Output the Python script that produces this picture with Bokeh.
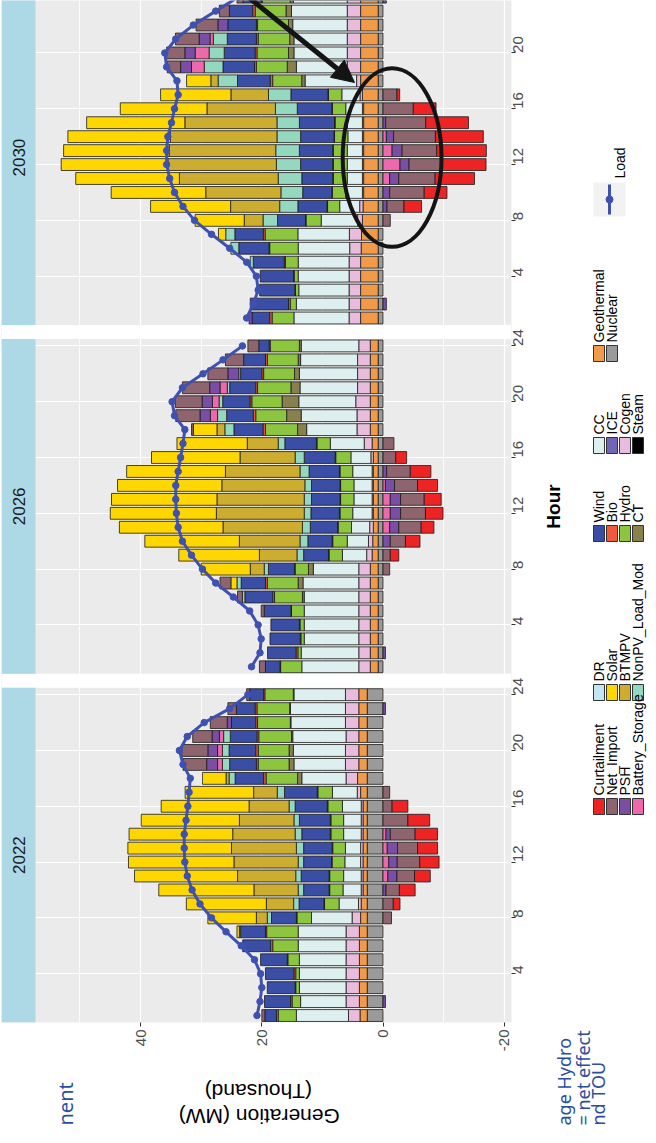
import math
from bokeh.plotting import figure
from bokeh.layouts import row, column
from bokeh.models import Range1d, FixedTicker, Arrow, NormalHead, ColumnDataSource
from bokeh.core.properties import value
from bokeh.embed import file_html
from bokeh.resources import INLINE

# ------------------------------------------------------------------ data
hours = [1, 2, 3, 4, 5, 6, 7, 8, 9, 10, 11, 12, 13, 14, 15, 16, 17, 18, 19, 20, 21, 22, 23, 24]
years = ["2022", "2026", "2030"]
categories = ["Curtailment", "Net_Import", "PSH", "Battery_Storage", "DR", "Solar", "BTMPV",
              "NonPV_Load_Mod", "Wind", "Bio", "Hydro", "CT", "CC", "ICE", "Cogen", "Steam",
              "Geothermal", "Nuclear"]
gen_ticks = [40, 20, 0, -20]
gen_minor_ticks = [50, 30, 10, -10]
hour_ticks = [4, 8, 12, 16, 20, 24]

# --- 2022 (thousand MW)
curtailment_2022 = [0, 0, 0, 0, 0, 0, 0, 0, -1.1, -2.6, -2.6, -3.2, -3.3, -3.7, -3.6, -2.6, 0, 0, 0, 0, 0, 0, 0, 0]
net_import_2022 = [0.5, 0, 0, 0, 0, 0, 0, -1.4, -1.7, -2.2, -2.9, -3.7, -3.3, -4.1, -4.1, -1.5, -1.1, 0, 3.9, 4.3, 3.2, 2.8, 1.4, 0.5]
psh_2022 = [0, -0.4, 0, 0, 0, 0, 0, 0, 0, -0.5, -1.5, -1.4, -1.7, -0.7, 0, 0, 0, 0, 1.8, 1.6, 1.2, 0.7, -0.4, 0]
battery_2022 = [0, 0, 0, 0, 0, 0, 0, 0, 0, 0, -0.8, -0.95, -0.7, -0.5, 0, 0, 0, 0, 0.8, 0.8, 0.7, 0, 0, 0]
dr_2022 = [0, 0, 0, 0, 0, 0, 0, 0, 0, 0, 0, 0, 0, 0, 0, 0, 0, 0, 0, 0, 0, 0, 0, 0]
solar_2022 = [0, 0, 0, 0, 0, 0, 0.4, 8.0, 13.2, 15.7, 17.0, 17.4, 17.1, 17.1, 16.2, 14.5, 11.3, 3.9, 0, 0, 0, 0, 0, 0]
btmpv_2022 = [0, 0, 0, 0, 0, 0, 0, 1.8, 4.5, 7.3, 9.6, 10.6, 10.7, 10.3, 9.0, 6.6, 3.9, 0.5, 0, 0, 0, 0, 0, 0]
nonpv_2022 = [0, 0, 0, 0, 0, 0, 0.2, 0.7, 0.9, 0.9, 0.9, 0.9, 1.2, 1.1, 0.9, 1.0, 1.2, 1.0, 1.2, 1.1, 1.1, 0, 0, 0]
wind_2022 = [1.9, 4.3, 4.6, 4.7, 4.4, 4.6, 4.1, 4.1, 4.1, 4.2, 4.6, 4.6, 4.7, 4.7, 5.1, 5.3, 5.4, 4.7, 4.4, 4.4, 4.4, 4.0, 3.1, 2.3]
bio_2022 = [0.3, 0.25, 0.1, 0.3, 0.1, 0.35, 0.2, 0.1, 0.1, 0.1, 0.1, 0.1, 0.1, 0.1, 0.1, 0.1, 0.1, 0.4, 0.3, 0.4, 0.3, 0.3, 0.3, 0.2]
hydro_2022 = [3.0, 1.4, 0.6, 0.6, 1.9, 4.2, 5.2, 2.4, 2.4, 2.2, 2.3, 2.1, 2.1, 2.1, 2.1, 2.4, 2.4, 5.2, 5.1, 5.1, 5.4, 5.4, 5.4, 4.7]
ct_2022 = [0, 0, 0, 0, 0, 0, 0, 0, 0, 0, 0, 0, 0, 0, 0, 0, 0, 0.7, 0.8, 0.7, 0.2, 0.1, 0.1, 0.1]
cc_2022 = [8.6, 7.5, 7.7, 7.7, 7.7, 7.9, 7.9, 6.7, 3.2, 3.0, 2.9, 2.6, 2.5, 2.9, 2.9, 3.1, 4.1, 7.3, 8.5, 8.6, 8.8, 9.0, 9.1, 8.5]
ice_2022 = [0, 0, 0, 0, 0, 0, 0, 0, 0, 0, 0, 0, 0, 0, 0, 0, 0, 0, 0, 0, 0, 0, 0, 0]
cogen_2022 = [1.9, 2.2, 2.2, 2.2, 2.2, 2.2, 2.2, 1.4, 0.45, 0.3, 0.3, 0.4, 0.4, 0.3, 0.3, 0.3, 0.55, 1.9, 2.2, 2.2, 2.1, 2.2, 2.2, 2.2]
steam_2022 = [0, 0, 0, 0, 0, 0, 0, 0, 0, 0, 0, 0, 0, 0, 0, 0, 0, 0, 0, 0, 0, 0, 0, 0]
geothermal_2022 = [1.2, 1.3, 1.3, 1.3, 1.3, 1.3, 1.3, 1.1, 1.0, 0.7, 0.7, 0.7, 0.7, 0.7, 0.7, 0.7, 1.1, 1.6, 1.4, 1.4, 1.4, 1.4, 1.4, 1.4]
nuclear_2022 = [2.6, 2.6, 2.6, 2.6, 2.6, 2.6, 2.6, 2.6, 2.6, 2.6, 2.6, 2.6, 2.6, 2.6, 2.6, 2.6, 2.6, 2.6, 2.6, 2.6, 2.6, 2.6, 2.6, 2.6]
load_2022 = [20.8, 20.3, 20.0, 20.2, 21.2, 23.4, 25.9, 28.3, 30.2, 31.5, 32.3, 32.7, 32.8, 32.8, 32.5, 32.2, 32.0, 31.8, 33.0, 33.6, 32.3, 29.5, 25.3, 22.3]

# --- 2026
curtailment_2026 = [0, 0, 0, 0, 0, 0, 0, 0, -1.4, -2.4, -2.1, -2.9, -2.8, -3.3, -3.4, -1.8, 0, 0, 0, 0, 0, 0, 0, 0]
net_import_2026 = [1.0, 0, 0, 0, 0.5, 0.8, 1.8, -1.1, -1.2, -2.5, -3.7, -4.1, -3.9, -3.8, -3.9, -2.1, -1.8, 0.3, 4.0, 4.4, 4.5, 3.3, 3.0, 1.8]
psh_2026 = [0, -0.4, 0, 0, 0, 0, 0, 0, 0, -1.2, -1.5, -1.7, -1.7, -1.5, -0.6, 0, 0, 0, 1.7, 1.7, 1.7, 1.8, 0, 0]
battery_2026 = [0, 0, 0, 0, 0, 0, 0, 0, 0, 0, -1.1, -1.2, -1.2, -0.4, 0, 0, 0, 0, 1.2, 1.1, 1.2, 0, 0, 0]
dr_2026 = [0, 0, 0, 0, 0, 0, 0, 0, 0, 0, 0, 0, 0, 0, 0, 0, 0, 0, 0, 0, 0, 0, 0, 0]
solar_2026 = [0, 0, 0, 0, 0, 0, 1.0, 8.1, 13.3, 15.6, 17.1, 17.5, 17.4, 17.2, 16.3, 14.6, 11.6, 3.9, 0, 0, 0, 0, 0, 0]
btmpv_2026 = [0, 0, 0, 0, 0, 0, 0, 2.3, 6.2, 10.0, 13.1, 14.5, 14.4, 13.7, 12.3, 9.1, 5.1, 1.3, 0, 0, 0, 0, 0, 0]
nonpv_2026 = [0, 0, 0, 0, 0, 0.4, 0.7, 0.7, 1.1, 1.3, 1.3, 1.1, 1.2, 1.1, 1.5, 1.5, 1.1, 1.5, 1.5, 0.6, 0.4, 0.3, 0, 0]
wind_2026 = [2.4, 4.7, 5.0, 4.7, 4.4, 4.6, 4.0, 4.3, 4.1, 4.0, 4.5, 4.7, 4.7, 4.7, 5.0, 5.1, 5.2, 4.8, 4.4, 4.5, 4.3, 3.5, 3.6, 1.7]
bio_2026 = [0.1, 0.3, 0.1, 0.1, 0.1, 0.3, 0.3, 0.1, 0.1, 0.1, 0.1, 0.1, 0.1, 0.1, 0.1, 0.1, 0.1, 0.4, 0.4, 0.3, 0.3, 0.3, 0.3, 0.2]
hydro_2026 = [3.5, 0.55, 0.55, 0.7, 2.1, 4.6, 5.1, 2.2, 2.2, 2.4, 2.2, 2.1, 2.2, 2.2, 2.1, 2.5, 2.2, 5.3, 5.1, 5.0, 5.5, 5.1, 5.1, 4.8]
ct_2026 = [0, 0, 0, 0, 0, 0.3, 0.8, 0.8, 0, 0, 0, 0, 0, 0, 0, 0, 0, 1.5, 2.4, 2.75, 1.5, 0.8, 0.4, 0.3]
cc_2026 = [9.4, 9.5, 9.0, 9.0, 9.0, 9.0, 9.2, 7.5, 4.0, 3.5, 3.0, 3.2, 3.0, 3.0, 3.2, 3.3, 5.6, 8.3, 9.2, 9.4, 9.5, 9.6, 9.4, 9.5]
ice_2026 = [0, 0, 0, 0, 0, 0, 0, 0, 0, 0, 0, 0, 0, 0, 0, 0, 0, 0, 0, 0, 0, 0, 0, 0]
cogen_2026 = [1.9, 1.9, 1.9, 1.9, 1.9, 1.9, 1.9, 1.9, 0.9, 0.7, 0.6, 0.2, 0.2, 0.2, 0.2, 0.4, 1.3, 2.2, 2.2, 2.4, 2.1, 2.1, 2.1, 1.9]
steam_2026 = [0, 0, 0, 0, 0, 0, 0, 0, 0, 0, 0, 0, 0, 0, 0, 0, 0, 0, 0, 0, 0, 0, 0, 0]
geothermal_2026 = [1.3, 1.3, 1.3, 1.3, 1.3, 1.3, 1.3, 1.3, 1.0, 0.9, 0.8, 0.8, 0.8, 0.8, 0.8, 0.8, 1.0, 1.3, 1.3, 1.3, 1.3, 1.3, 1.3, 1.3]
nuclear_2026 = [0.8, 0.8, 0.8, 0.8, 0.8, 0.8, 0.8, 0.8, 0.8, 0.8, 0.8, 0.8, 0.8, 0.8, 0.8, 0.8, 0.8, 0.8, 0.8, 0.8, 0.8, 0.8, 0.8, 0.8]
load_2026 = [21.7, 20.3, 20.1, 20.6, 22.0, 24.7, 27.6, 29.8, 31.6, 33.1, 33.8, 34.1, 34.2, 34.2, 33.8, 33.4, 33.0, 32.7, 34.4, 34.8, 33.1, 29.7, 26.4, 23.2]

# --- 2030
curtailment_2030 = [0, 0, 0, 0, 0, 0, 0, 0, -2.9, -3.75, -6.5, -7.3, -8.2, -7.9, -7.05, -3.75, -0.45, 0, 0, 0, 0, 0, 0, 0]
net_import_2030 = [0, 0, 0, 0, 0, 0, 0, -1.2, -2.8, -5.7, -6.0, -5.4, -5.7, -6.9, -6.6, -5.0, -2.3, 0, 2.2, 3.0, 3.9, 3.6, 1.65, 1.0]
psh_2030 = [0.5, -0.55, 0, 0, 0, 0, 0, 0, -0.66, -1.1, -1.5, -1.5, -1.65, -1.2, -0.45, 0, 0, 0, 1.8, 1.7, 1.8, 1.65, 0, -0.55]
battery_2030 = [0, 0, 0, 0, 0, 0, 0, 0, 0, 0, -1.1, -2.8, -1.5, -0.55, 0, 0, 0, 0, 2.1, 2.3, 0.55, 0, 0, 0]
dr_2030 = [0, 0, 0, 0, 0, 0, 0, 0, 0, 0, 0, 0, 0, 0, 0, 0, 0, 0, 0, 0, 0, 0, 0, 0]
solar_2030 = [0, 0, 0, 0, 0, 0, 1.2, 8.1, 13.2, 15.6, 17.1, 17.6, 17.4, 16.9, 16.2, 14.3, 11.6, 4.0, 0, 0, 0, 0, 0, 0]
btmpv_2030 = [0, 0, 0, 0, 0, 0, 0, 3.1, 8.1, 12.4, 16.3, 17.9, 17.6, 17.6, 15.2, 11.3, 6.2, 1.2, 0, 0, 0, 0, 0, 0]
nonpv_2030 = [0, 0, 0, 0, 0.5, 1.3, 1.5, 2.4, 3.0, 3.6, 3.9, 4.0, 3.9, 3.9, 3.7, 3.6, 3.7, 3.2, 3.1, 2.5, 2.3, 0, 0, 0]
wind_2030 = [2.9, 6.3, 5.8, 5.5, 5.1, 5.0, 4.7, 4.6, 4.8, 4.8, 5.1, 5.3, 5.5, 5.5, 5.8, 5.7, 6.1, 5.4, 5.2, 5.1, 4.8, 4.7, 3.85, 3.0]
bio_2030 = [0.4, 0.3, 0.1, 0.1, 0.2, 0.1, 0.3, 0.1, 0.1, 0.1, 0.1, 0.1, 0.1, 0.1, 0.1, 0.1, 0.1, 0.4, 0.3, 0.3, 0.3, 0.2, 0.4, 0.2]
hydro_2030 = [3.6, 1.0, 0.55, 0.66, 2.1, 4.7, 5.4, 2.5, 2.0, 2.2, 2.3, 2.3, 2.3, 2.2, 2.0, 2.2, 2.2, 4.8, 5.1, 5.2, 5.2, 5.1, 5.1, 4.6]
ct_2030 = [0, 0, 0, 0, 0, 0, 0, 0, 0, 0, 0, 0, 0, 0, 0, 0, 0, 0.55, 1.5, 0.9, 0.7, 0.7, 0.9, 0.5]
cc_2030 = [9.1, 8.7, 8.3, 8.4, 8.4, 8.5, 8.5, 6.0, 3.3, 2.75, 2.5, 2.5, 2.5, 2.4, 2.5, 2.75, 3.0, 8.5, 8.4, 8.8, 8.8, 9.0, 9.2, 8.9]
ice_2030 = [0, 0, 0, 0, 0, 0, 0, 0, 0, 0, 0, 0, 0, 0, 0, 0, 0, 0, 0, 0, 0, 0, 0, 0]
cogen_2030 = [1.9, 1.9, 1.9, 1.9, 1.9, 1.9, 2.0, 0.8, 0.55, 0.2, 0.2, 0.2, 0.2, 0.2, 0.2, 0.2, 0.4, 0.66, 2.2, 2.2, 2.2, 2.2, 2.2, 2.2]
steam_2030 = [0, 0, 0, 0, 0, 0, 0, 0, 0, 0, 0, 0, 0, 0, 0, 0, 0, 0, 0, 0, 0, 0, 0, 0]
geothermal_2030 = [2.9, 2.9, 2.9, 2.9, 2.9, 2.8, 2.75, 2.6, 2.5, 2.4, 2.4, 2.4, 2.4, 2.4, 2.4, 2.4, 2.6, 2.9, 2.9, 2.9, 2.9, 2.9, 2.9, 2.9]
nuclear_2030 = [0.8, 0.8, 0.8, 0.8, 0.8, 0.8, 0.8, 0.8, 0.8, 0.8, 0.8, 0.8, 0.8, 0.8, 0.8, 0.8, 0.8, 0.8, 0.8, 0.8, 0.8, 0.8, 0.8, 0.8]
load_2030 = [22.5, 21.4, 20.6, 20.9, 22.5, 25.3, 28.3, 31.1, 33.0, 34.4, 35.2, 35.7, 35.7, 35.5, 34.9, 34.4, 33.8, 34.0, 35.7, 36.0, 34.2, 31.3, 27.6, 23.9]

series = {
    "2022": [curtailment_2022, net_import_2022, psh_2022, battery_2022, dr_2022, solar_2022, btmpv_2022,
             nonpv_2022, wind_2022, bio_2022, hydro_2022, ct_2022, cc_2022, ice_2022, cogen_2022,
             steam_2022, geothermal_2022, nuclear_2022],
    "2026": [curtailment_2026, net_import_2026, psh_2026, battery_2026, dr_2026, solar_2026, btmpv_2026,
             nonpv_2026, wind_2026, bio_2026, hydro_2026, ct_2026, cc_2026, ice_2026, cogen_2026,
             steam_2026, geothermal_2026, nuclear_2026],
    "2030": [curtailment_2030, net_import_2030, psh_2030, battery_2030, dr_2030, solar_2030, btmpv_2030,
             nonpv_2030, wind_2030, bio_2030, hydro_2030, ct_2030, cc_2030, ice_2030, cogen_2030,
             steam_2030, geothermal_2030, nuclear_2030],
}
loads = {"2022": load_2022, "2026": load_2026, "2030": load_2030}

# ------------------------------------------------------------------ style
colors = {
    "Curtailment": "#EE2424", "Net_Import": "#8E646E", "PSH": "#7A4EA5", "Battery_Storage": "#EE68AC",
    "DR": "#C4E5F4", "Solar": "#FFD700", "BTMPV": "#CDAD2F", "NonPV_Load_Mod": "#94D8C0",
    "Wind": "#3B4EA5", "Bio": "#F05A3C", "Hydro": "#8CC63E", "CT": "#88814E", "CC": "#DDEFEF",
    "ICE": "#6F67B3", "Cogen": "#E9BCDD", "Steam": "#000000", "Geothermal": "#F19A48",
    "Nuclear": "#9A9A9A",
}
LOAD_C = "#3F51B0"
FONT = "Liberation Sans"
INK = "#141414"

X0, X1 = 62.95, -21.2          # generation range (reversed: chart is rotated)
Y0, Y1 = 0.5, 73.76            # stacked-hour range (3 facets)
offsets = {"2022": 0, "2026": 25, "2030": 50}
STRIP_EDGE = 57.34

MAIN_W, MAIN_H = 542, 1072
SIDE_W = 106
BOT_H = 55


def ax(px):   # page pixel -> main data x (annotation placement only)
    return X0 + (px - 9) * (X1 - X0) / 510.0


def ay(py):   # page pixel -> main data y (annotation placement only)
    return Y1 - (py - 8) * (Y1 - Y0) / 1022.0


def blank_fig(w, h, x0, x1, y0, y1):
    f = figure(width=w, height=h, output_backend="svg", toolbar_location=None,
               x_range=Range1d(x0, x1), y_range=Range1d(y0, y1),
               x_axis_location=None, y_axis_location=None,
               min_border_left=0, min_border_right=0, min_border_top=0, min_border_bottom=0)
    f.grid.visible = False
    f.outline_line_color = None
    f.background_fill_color = "white"
    f.border_fill_color = "white"
    return f


# ------------------------------------------------------------------ main panels
p = figure(width=MAIN_W, height=MAIN_H, output_backend="svg", toolbar_location=None,
           x_range=Range1d(X0, X1), y_range=Range1d(Y0, Y1),
           x_axis_location="below", y_axis_location="right",
           min_border_left=1, min_border_right=MAIN_W - 511, min_border_top=0,
           min_border_bottom=MAIN_H - 1022)
p.background_fill_color = "#EBEBEB"
p.border_fill_color = "white"
p.outline_line_color = None

xt = FixedTicker(ticks=gen_ticks, minor_ticks=gen_minor_ticks)
xa = p.xaxis[0]
xa.ticker = xt
p.xgrid[0].ticker = xt
xa.major_label_overrides = {t: str(t) for t in gen_ticks}
xa.major_label_orientation = math.pi / 2
xa.axis_line_color = None
xa.major_tick_line_color = "#333333"
xa.major_tick_out = 4
xa.major_tick_in = 0
xa.minor_tick_line_color = None
xa.major_label_text_font = FONT
xa.major_label_text_font_size = "15px"
xa.major_label_text_color = "#4D4D4D"
xa.major_label_standoff = 3

yticks = [offsets[yr] + h for yr in years for h in hour_ticks]
yt = FixedTicker(ticks=yticks, minor_ticks=[])
ya = p.yaxis[0]
ya.ticker = yt
p.ygrid[0].ticker = yt
ya.major_label_overrides = {offsets[yr] + h: str(h) for yr in years for h in hour_ticks}
ya.major_label_orientation = math.pi / 2
ya.axis_line_color = None
ya.major_tick_line_color = "#333333"
ya.major_tick_out = 4
ya.major_tick_in = 0
ya.minor_tick_line_color = None
ya.major_label_text_font = FONT
ya.major_label_text_font_size = "15px"
ya.major_label_text_color = "#4D4D4D"
ya.major_label_standoff = 3

p.xgrid[0].grid_line_color = "white"
p.xgrid[0].grid_line_width = 1.2
p.xgrid[0].minor_grid_line_color = "white"
p.xgrid[0].minor_grid_line_width = 0.8
p.ygrid[0].grid_line_color = "white"
p.ygrid[0].grid_line_width = 1.2

gap_b = [offsets["2026"] - 0.5, offsets["2030"] - 0.5]
p.quad(left=X0, right=X1, bottom=gap_b, top=[g + 1 for g in gap_b], fill_color="white", line_color=None)
p.quad(left=X0, right=STRIP_EDGE, bottom=[offsets[yr] + 0.5 for yr in years],
       top=[offsets[yr] + 24.5 for yr in years], fill_color="#ADD8E6", line_color=None)
p.text(x=[(X0 + STRIP_EDGE) / 2] * 3, y=[offsets[yr] + 12.5 for yr in years], text=years,
       angle=math.pi / 2, text_font=value(FONT), text_font_size="17px", text_color="#1A1A1A",
       text_align="center", text_baseline="middle")

rows = dict(y=[], left=[], right=[], color=[])
for yr in years:
    off = offsets[yr]
    pos = [0.0] * 24
    neg = [0.0] * 24
    for cat, vals in reversed(list(zip(categories, series[yr]))):
        for i, v in enumerate(vals):
            if v > 0:
                a = pos[i]; pos[i] += v; b = pos[i]
            elif v < 0:
                a = neg[i]; neg[i] += v; b = neg[i]
            else:
                continue
            rows["y"].append(hours[i] + off)
            rows["left"].append(a)
            rows["right"].append(b)
            rows["color"].append(colors[cat])
p.hbar(y="y", left="left", right="right", height=0.85, fill_color="color", line_color="#1A1A1A",
       line_width=0.8, source=ColumnDataSource(rows))

for yr in years:
    ys = [h + offsets[yr] for h in hours]
    p.line(x=loads[yr], y=ys, line_color=LOAD_C, line_width=3)
    p.scatter(x=loads[yr], y=ys, size=6.5, fill_color=LOAD_C, line_color=LOAD_C)

# hand-drawn highlight: ellipse + arrow
ELLIPSE_X, ELLIPSE_Y, ELLIPSE_W, ELLIPSE_H = -1.5, 62.5, 16.3, 12.8
p.ellipse(x=[ELLIPSE_X], y=[ELLIPSE_Y], width=[ELLIPSE_W], height=[ELLIPSE_H], fill_color=None,
          line_color=INK, line_width=4)
p.add_layout(Arrow(end=NormalHead(size=22, fill_color=INK, line_color=INK, line_width=1),
                   x_start=ax(235), y_start=ay(-12), x_end=ax(362), y_end=ay(90),
                   line_color=INK, line_width=5))

# ------------------------------------------------------------------ bottom strip (axis title)
# page coords: x 8..550, y 1080..1135 ; data y = 1135 - page_y
bot = blank_fig(MAIN_W, BOT_H, 8, 8 + MAIN_W, 0, BOT_H)
bot.text(x=[281, 282], y=[1135 - 1099, 1135 - 1124], text=["(Thousand)", "Generation (MW)"],
         angle=math.pi, text_font=value(FONT), text_font_size="21px", text_color="black",
         text_align="center", text_baseline="middle")
bot.text(x=[76], y=[1135 - 1133], text=["nent"], angle=math.pi / 2, text_font=value("Noto Sans"),
         text_font_size="20px", text_color="#2B4FA0", text_align="left", text_baseline="middle")

# ------------------------------------------------------------------ side strip (legend)
# page coords: x 550..656, y 8..1135 ; data y = 1135 - page_y
side = blank_fig(SIDE_W, MAIN_H + BOT_H, 550, 550 + SIDE_W, 0, MAIN_H + BOT_H)
side.text(x=[561], y=[1135 - 514], text=["Hour"], angle=math.pi / 2, text_font=value(FONT),
          text_font_size="19px", text_font_style="bold", text_color="black",
          text_align="center", text_baseline="middle")

legend_groups = [(categories[0:4], 806), (categories[4:8], 692), (categories[8:12], 533),
                 (categories[12:16], 445), (categories[16:18], 353)]
KEY_X0, KEY_PITCH, KEY_W, KEY_H = 601, 13, 11, 16
key = dict(l=[], r=[], t=[], b=[], c=[])
lab = dict(x=[], y=[], t=[])
for names, ktop in legend_groups:
    for r, name in enumerate(names):
        kx = KEY_X0 + KEY_PITCH * r
        key["l"].append(kx); key["r"].append(kx + KEY_W)
        key["t"].append(1135 - ktop); key["b"].append(1135 - ktop - KEY_H)
        key["c"].append(colors[name])
        lab["x"].append(kx + KEY_W / 2); lab["y"].append(1135 - ktop + 3); lab["t"].append(name)
side.quad(left="l", right="r", top="t", bottom="b", fill_color="c", line_color="#333333",
          line_width=1, source=ColumnDataSource(key))
side.text(x="x", y="y", text="t", angle=math.pi / 2, text_font=value(FONT), text_font_size="14px",
          text_color="black", text_align="left", text_baseline="middle", source=ColumnDataSource(lab))

# Load key
side.quad(left=[601], right=[633], top=[1135 - 190], bottom=[1135 - 224], fill_color="#F2F2F2",
          line_color=None)
side.segment(x0=[617], y0=[1135 - 192], x1=[617], y1=[1135 - 222], line_color=LOAD_C, line_width=3)
side.scatter(x=[617], y=[1135 - 207], size=7, fill_color=LOAD_C, line_color=LOAD_C)
side.text(x=[627], y=[1135 - 186], text=["Load"], angle=math.pi / 2, text_font=value(FONT),
          text_font_size="14px", text_color="black", text_align="left", text_baseline="middle")

# fragments of slide text behind the chart
side.text(x=[571, 590, 605], y=[1135 - 1133] * 3, text=["age Hydro", "= net effect", "nd TOU"],
          angle=math.pi / 2, text_font=value("Noto Sans"), text_font_size="18px",
          text_color="#2B4FA0", text_align="left", text_baseline="middle")

layout = row(column(p, bot, spacing=0), side, spacing=0)
open("out.html", "w").write(file_html(layout, INLINE))
